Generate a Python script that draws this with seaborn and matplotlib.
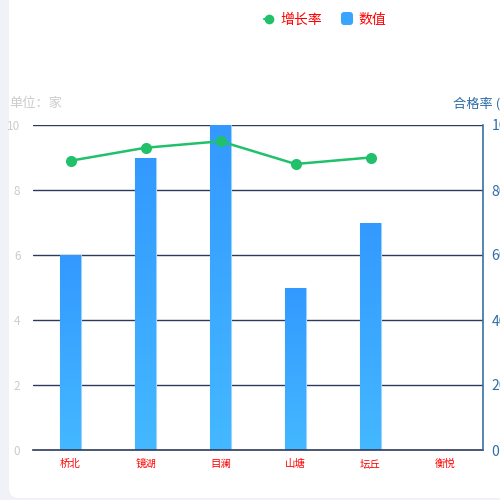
import numpy as np
import pandas as pd
import matplotlib
matplotlib.use("Agg")
import matplotlib.pyplot as plt
import seaborn as sns
from matplotlib.patches import FancyBboxPatch
from matplotlib.lines import Line2D
from matplotlib.colors import LinearSegmentedColormap

categories = ["桥北", "镜湖", "目澜", "山塘", "坛丘", "衡悦"]
counts = [6, 9, 10, 5, 7, 0]
rates = [89, 93, 95, 88, 90, None]
left_ticks = [0, 2, 4, 6, 8, 10]
right_ticks = [0, 20, 40, 60, 80, 100]

sns.set_theme(style="white")
plt.rcParams['font.family'] = ['Noto Sans CJK SC', 'DejaVu Sans']

fig = plt.figure(figsize=(5, 5), dpi=100)
fig.patch.set_facecolor("#f0f2f7")
card = FancyBboxPatch((0.018, 0.004), 1.2, 1.1, boxstyle="round,pad=0,rounding_size=0.02",
                      transform=fig.transFigure, facecolor="white", edgecolor="none", zorder=-10)
fig.patches.append(card)

ax = fig.add_axes([0.066, 0.10, 0.90, 0.65])
ax.set_facecolor("none")
df = pd.DataFrame({"cat": categories, "count": counts})
sns.barplot(data=df, x="cat", y="count", ax=ax, width=0.27, color="#3399ff", saturation=1, zorder=2)

ax.set_ylim(0, 10)
ax.set_xlim(-0.5, 5.5)
ax.set_yticks(left_ticks)
ax.set_yticklabels([str(t) for t in left_ticks], color="#cccccc", fontsize=8.5)
ax.set_xlabel("")
ax.set_ylabel("")
ax.tick_params(axis="x", colors="red", labelsize=7.5, length=0, pad=9.5)
ax.tick_params(axis="y", length=0, pad=9)
for lab in ax.get_xticklabels():
    lab.set_color("red")
    lab.set_verticalalignment("center_baseline")
for t in left_ticks[1:]:
    ax.axhline(t, color="#2c3a5c", lw=1, zorder=1)
for s in ["top", "right", "left"]:
    ax.spines[s].set_visible(False)
ax.spines["bottom"].set_color("#2c3a5c")
ax.spines["bottom"].set_linewidth(1.2)

# gradient fill for bars
grad = np.linspace(0, 1, 256).reshape(-1, 1)
cmap = LinearSegmentedColormap.from_list("g", ["#44b8ff", "#3399ff"])
for p in list(ax.patches):
    x0, y0 = p.get_x(), p.get_y()
    w, h = p.get_width(), p.get_height()
    if h <= 0:
        continue
    p.set_facecolor("none")
    p.set_edgecolor("#9fd3ff")
    p.set_linewidth(0.8)
    im = ax.imshow(grad, extent=[x0, x0 + w, y0, y0 + h], origin="lower", cmap=cmap,
                   aspect="auto", zorder=2)
    im.set_clip_path(p)
ax.set_xlim(-0.5, 5.5)
ax.set_ylim(0, 10)

ax2 = ax.twinx()
rdf = pd.DataFrame({"cat": list(range(len(categories))), "rate": rates}).dropna()
sns.lineplot(data=rdf, x="cat", y="rate", ax=ax2, color="#21c16b", lw=1.8,
             marker="o", markersize=8, markeredgewidth=0, zorder=5)
ax2.set_ylim(0, 100)
ax2.set_yticks(right_ticks)
ax2.set_yticklabels([str(t) for t in right_ticks], color="#2e6da4", fontsize=10)
ax2.set_xlabel("")
ax2.set_ylabel("")
ax2.tick_params(axis="y", length=0, pad=6)
for s in ["top", "left", "bottom"]:
    ax2.spines[s].set_visible(False)
ax2.spines["right"].set_color("#3a6f9f")
ax2.spines["right"].set_linewidth(1.2)
ax2.set_xlim(-0.5, 5.5)

fig.text(0.018, 0.796, "单位：家", color="#cccccc", fontsize=9.5, va="center_baseline", ha="left")
fig.text(0.906, 0.796, "合格率 (%)", color="#2e6da4", fontsize=9.5, va="center_baseline", ha="left")

# legend
fig.lines.append(Line2D([0.528, 0.546], [0.963, 0.963], color="#21c16b", lw=1.5,
                        transform=fig.transFigure))
fig.lines.append(Line2D([0.537], [0.963], color="#21c16b", marker="o", markersize=7,
                        markeredgewidth=0, transform=fig.transFigure))
fig.text(0.560, 0.963, "增长率", color="red", fontsize=10, va="center_baseline", ha="left")
fig.patches.append(FancyBboxPatch((0.682, 0.950), 0.024, 0.026,
                                  boxstyle="round,pad=0,rounding_size=0.006",
                                  transform=fig.transFigure, facecolor="#3aa5ff",
                                  edgecolor="none"))
fig.text(0.716, 0.963, "数值", color="red", fontsize=10, va="center_baseline", ha="left")

fig.savefig("out.png", dpi=100)
